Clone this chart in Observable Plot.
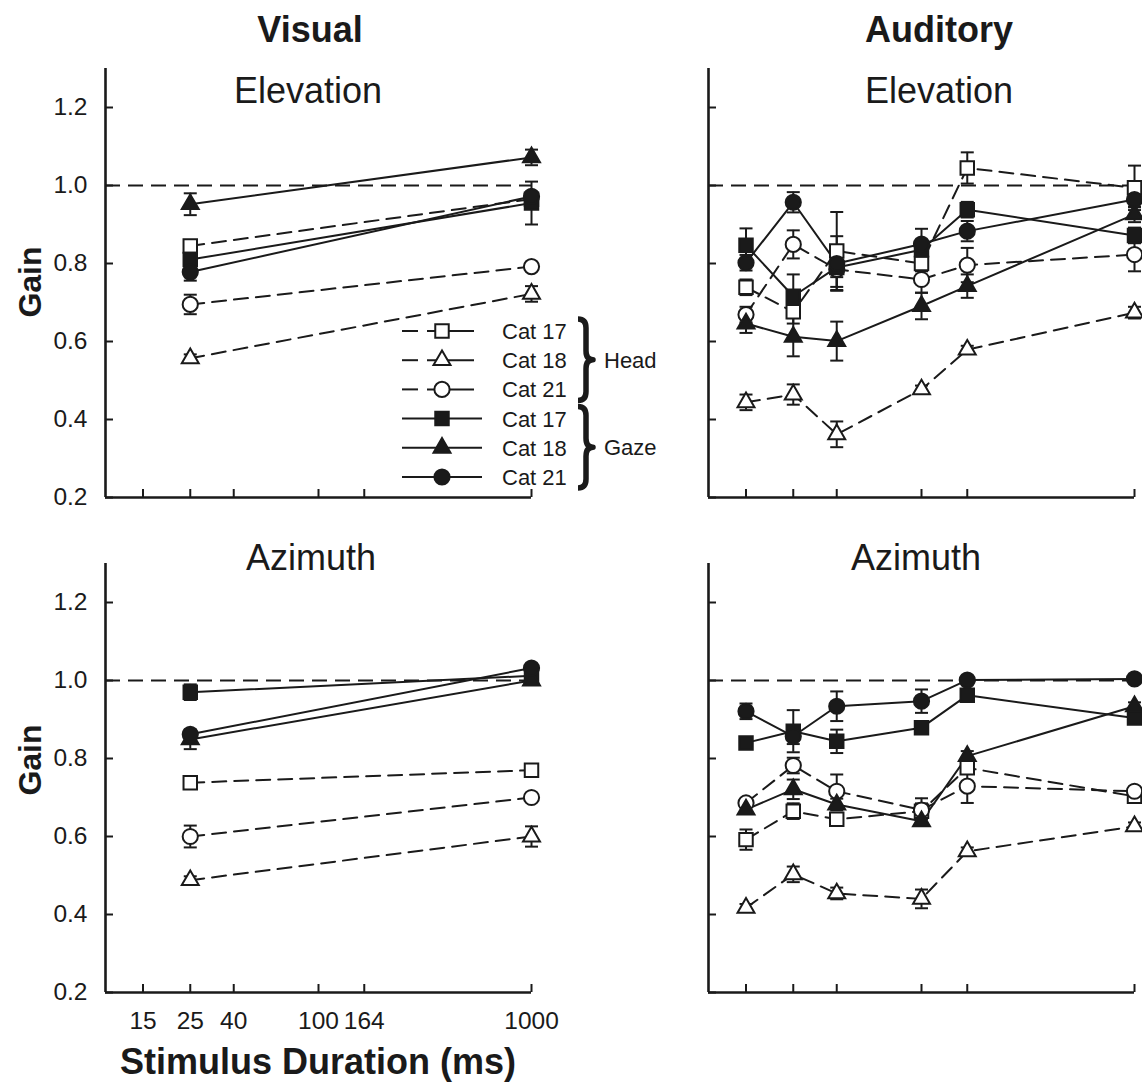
<!DOCTYPE html>
<html><head><meta charset="utf-8">
<script src="https://cdn.jsdelivr.net/npm/d3@7"></script>
<script src="https://cdn.jsdelivr.net/npm/@observablehq/plot@0.6"></script>
<style>
html,body{margin:0;padding:0;background:#fff;}
#page{position:relative;width:1142px;height:1084px;overflow:hidden;background:#fff;}
</style></head>
<body><div id="page"></div>
<script>
// ---------------- data ----------------
const cats = ["Cat 17", "Cat 18", "Cat 21"];
const visDur = [25, 1000];
const audDur = [15, 25, 40, 100, 164, 1000];
const xTicks = [15, 25, 40, 100, 164, 1000];
const yTicks = [0.2, 0.4, 0.6, 0.8, 1.0, 1.2];
const unityGain = 1.0;

// Visual – Elevation (rows: Cat 17, Cat 18, Cat 21)
const visElevHead    = [[0.845, 0.965], [0.557, 0.722], [0.695, 0.792]];
const visElevHeadErr = [[0.01, 0.01], [0.01, 0.02], [0.025, 0.01]];
const visElevGaze    = [[0.81, 0.955], [0.952, 1.072], [0.778, 0.972]];
const visElevGazeErr = [[0.01, 0.055], [0.028, 0.02], [0.022, 0.01]];

// Visual – Azimuth
const visAzHead    = [[0.738, 0.770], [0.488, 0.600], [0.600, 0.700]];
const visAzHeadErr = [[0.01, 0.01], [0.01, 0.026], [0.028, 0.01]];
const visAzGaze    = [[0.970, 1.012], [0.849, 1.000], [0.862, 1.032]];
const visAzGazeErr = [[0.02, 0.01], [0.025, 0.01], [0.01, 0.01]];

// Auditory – Elevation (15, 25, 40, 100, 164, 1000 ms)
const audElevHead    = [[0.739, 0.676, 0.832, 0.800, 1.045, 0.994],
                        [0.444, 0.464, 0.362, 0.477, 0.579, 0.674],
                        [0.669, 0.849, 0.785, 0.759, 0.796, 0.823]];
const audElevHeadErr = [[0.02, 0.03, 0.10, 0.02, 0.04, 0.057],
                        [0.02, 0.026, 0.033, 0.01, 0.01, 0.015],
                        [0.02, 0.036, 0.02, 0.034, 0.044, 0.043]];
const audElevGaze    = [[0.847, 0.716, 0.790, 0.835, 0.938, 0.872],
                        [0.646, 0.612, 0.601, 0.691, 0.742, 0.926],
                        [0.802, 0.957, 0.800, 0.850, 0.883, 0.964]];
const audElevGazeErr = [[0.043, 0.056, 0.05, 0.02, 0.02, 0.02],
                        [0.024, 0.05, 0.05, 0.034, 0.03, 0.02],
                        [0.02, 0.026, 0.07, 0.039, 0.026, 0.02]];

// Auditory – Azimuth
const audAzHead    = [[0.592, 0.665, 0.644, 0.665, 0.776, 0.703],
                      [0.417, 0.503, 0.454, 0.440, 0.562, 0.626],
                      [0.686, 0.782, 0.716, 0.668, 0.729, 0.716]];
const audAzHeadErr = [[0.026, 0.02, 0.015, 0.02, 0.01, 0.01],
                      [0.01, 0.02, 0.015, 0.024, 0.01, 0.01],
                      [0.01, 0.02, 0.043, 0.03, 0.043, 0.01]];
const audAzGaze    = [[0.840, 0.870, 0.844, 0.879, 0.962, 0.904],
                      [0.669, 0.721, 0.682, 0.639, 0.806, 0.934],
                      [0.921, 0.857, 0.934, 0.947, 1.001, 1.004]];
const audAzGazeErr = [[0.01, 0.054, 0.03, 0.01, 0.01, 0.01],
                      [0.01, 0.025, 0.015, 0.01, 0.013, 0.01],
                      [0.02, 0.02, 0.038, 0.03, 0.01, 0.01]];

// ---------------- style ----------------
const ink = "#1a1a1a";
const font = "'Liberation Sans', Arial, Helvetica, sans-serif";
const xDomain = [10, 1000];
const yDomain = [0.2, 1.3];
const symbols = {"Cat 17": "square", "Cat 18": "triangle", "Cat 21": "circle"};
const radii = {"Cat 17": 7.6, "Cat 18": 6.3, "Cat 21": 7.6};
const capSymbol = {draw(ctx, size) { const r = Math.sqrt(size / Math.PI); ctx.moveTo(-r, 0); ctx.lineTo(r, 0); }};

function rowsFor(dur, head, headErr, gaze, gazeErr) {
  const rows = [];
  [["Head", head, headErr], ["Gaze", gaze, gazeErr]].forEach(([kind, vals, errs]) => {
    vals.forEach((series, i) => series.forEach((v, j) =>
      rows.push({kind, cat: cats[i], dur: dur[j], gain: v, err: errs[i][j]})));
  });
  return rows;
}

const page = document.getElementById("page");

function panel(rows, o) {
  const head = rows.filter(d => d.kind === "Head");
  const gaze = rows.filter(d => d.kind === "Gaze");
  const marks = [
    Plot.ruleY([unityGain], {stroke: ink, strokeWidth: 2, strokeDasharray: "15,8"}),
    Plot.line(head, {x: "dur", y: "gain", z: "cat", stroke: ink, strokeWidth: 2, strokeDasharray: "14,8"}),
    Plot.line(gaze, {x: "dur", y: "gain", z: "cat", stroke: ink, strokeWidth: 2}),
    Plot.ruleX(rows, {x: "dur", y1: d => d.gain - d.err, y2: d => d.gain + d.err, stroke: ink, strokeWidth: 2}),
    Plot.dot(rows, {x: "dur", y: d => d.gain + d.err, symbol: capSymbol, r: 6.5, fill: "none", stroke: ink, strokeWidth: 2}),
    Plot.dot(rows, {x: "dur", y: d => d.gain - d.err, symbol: capSymbol, r: 6.5, fill: "none", stroke: ink, strokeWidth: 2})
  ];
  for (const kind of ["Head", "Gaze"]) for (const cat of cats) {
    marks.push(Plot.dot(rows.filter(d => d.kind === kind && d.cat === cat),
      {x: "dur", y: "gain", symbol: symbols[cat], r: radii[cat],
       fill: kind === "Head" ? "white" : ink, stroke: ink, strokeWidth: 2}));
  }
  marks.push(
    Plot.ruleX([xDomain[0]], {stroke: ink, strokeWidth: 2.6}),
    Plot.ruleY([yDomain[0]], {stroke: ink, strokeWidth: 2.6}),
    Plot.axisY(yTicks, {tickSize: -8, tickPadding: 26, strokeWidth: 2, fontSize: 24.5, label: null,
      tickFormat: o.yLabels ? d3.format(".1f") : () => ""}),
    Plot.axisX(xTicks, {tickSize: -8, tickPadding: 24, strokeWidth: 2, label: null, tickFormat: () => ""})
  );
  if (o.xLabels) {
    marks.push(Plot.text(xTicks, {x: d => d, frameAnchor: "bottom", lineAnchor: "top", dy: 19,
      fontSize: 24.5, fill: ink, text: d => String(d)}));
  }
  const svg = Plot.plot({
    width: o.width, height: o.height,
    marginLeft: o.marginLeft, marginRight: o.marginRight, marginTop: o.marginTop, marginBottom: o.marginBottom,
    x: {type: "log", domain: xDomain},
    y: {domain: yDomain},
    style: {fontFamily: font, color: ink, background: "transparent", overflow: "visible", maxWidth: "none"},
    marks
  });
  svg.style.position = "absolute";
  svg.style.left = o.left + "px";
  svg.style.top = o.top + "px";
  page.appendChild(svg);
}

panel(rowsFor(visDur, visElevHead, visElevHeadErr, visElevGaze, visElevGazeErr),
  {left: 0, top: 55, width: 571, height: 470, marginLeft: 105, marginRight: 40, marginTop: 13, marginBottom: 28, yLabels: true, xLabels: false});
panel(rowsFor(audDur, audElevHead, audElevHeadErr, audElevGaze, audElevGazeErr),
  {left: 571, top: 55, width: 600, height: 470, marginLeft: 137, marginRight: 37, marginTop: 13, marginBottom: 28, yLabels: false, xLabels: false});
panel(rowsFor(visDur, visAzHead, visAzHeadErr, visAzGaze, visAzGazeErr),
  {left: 0, top: 550, width: 571, height: 534, marginLeft: 105, marginRight: 40, marginTop: 13, marginBottom: 92, yLabels: true, xLabels: true});
panel(rowsFor(audDur, audAzHead, audAzHeadErr, audAzGaze, audAzGazeErr),
  {left: 571, top: 550, width: 600, height: 534, marginLeft: 137, marginRight: 37, marginTop: 13, marginBottom: 92, yLabels: false, xLabels: false});

// ---------------- overlay: titles, labels, legend ----------------
const ov = d3.select(page).append("svg")
  .attr("width", 1142).attr("height", 1084)
  .style("position", "absolute").style("left", "0px").style("top", "0px")
  .style("font-family", font).attr("fill", ink);

const texts = [
  {t: "Visual", x: 310, y: 42, s: 36, w: "bold"},
  {t: "Auditory", x: 939, y: 42, s: 36, w: "bold"},
  {t: "Elevation", x: 308, y: 103, s: 36, w: "normal"},
  {t: "Elevation", x: 939, y: 103, s: 36, w: "normal"},
  {t: "Azimuth", x: 311, y: 570, s: 36, w: "normal"},
  {t: "Azimuth", x: 916, y: 570, s: 36, w: "normal"},
  {t: "Stimulus Duration (ms)", x: 318, y: 1074, s: 36, w: "bold"}
];
ov.selectAll("text.title").data(texts).join("text").attr("class", "title")
  .attr("x", d => d.x).attr("y", d => d.y).attr("text-anchor", "middle")
  .attr("font-size", d => d.s).attr("font-weight", d => d.w).text(d => d.t);

[282, 760].forEach(cy => {
  ov.append("text").attr("transform", `translate(41,${cy}) rotate(-90)`)
    .attr("text-anchor", "middle").attr("font-size", 32).attr("font-weight", "bold").text("Gain");
});

// legend
const legendRows = ["Head", "Gaze"].flatMap(kind => cats.map(cat => ({kind, cat})));
const lgY0 = 331, lgStep = 29.2, lgX0 = 402, lgMark = 442, lgText = 502;
const lg = ov.append("g");
legendRows.forEach((d, i) => {
  const y = lgY0 + i * lgStep;
  if (d.kind === "Head") {
    lg.append("line").attr("x1", lgX0).attr("x2", lgX0 + 16).attr("y1", y).attr("y2", y).attr("stroke", ink).attr("stroke-width", 2);
    lg.append("line").attr("x1", lgX0 + 25).attr("x2", lgX0 + 72).attr("y1", y).attr("y2", y).attr("stroke", ink).attr("stroke-width", 2);
  } else {
    lg.append("line").attr("x1", lgX0).attr("x2", lgX0 + 80).attr("y1", y).attr("y2", y).attr("stroke", ink).attr("stroke-width", 2);
  }
  const symType = {square: d3.symbolSquare, triangle: d3.symbolTriangle, circle: d3.symbolCircle}[symbols[d.cat]];
  const r = radii[d.cat];
  lg.append("path").attr("d", d3.symbol(symType, Math.PI * r * r)())
    .attr("transform", `translate(${lgMark},${y})`)
    .attr("fill", d.kind === "Head" ? "white" : ink).attr("stroke", ink).attr("stroke-width", 2);
  lg.append("text").attr("x", lgText).attr("y", y).attr("dy", "0.36em").attr("font-size", 22).text(d.cat);
});
function brace(x, y0, y1, w, tip) {
  const ym = (y0 + y1) / 2, r = 9;
  return `M${x},${y0} Q${x + w},${y0} ${x + w},${y0 + r} L${x + w},${ym - r} Q${x + w},${ym} ${x + w + tip},${ym} ` +
         `Q${x + w},${ym} ${x + w},${ym + r} L${x + w},${y1 - r} Q${x + w},${y1} ${x},${y1}`;
}
[["Head", 0], ["Gaze", 3]].forEach(([label, k]) => {
  const y0 = lgY0 + k * lgStep - 12, y1 = lgY0 + (k + 2) * lgStep + 11;
  lg.append("path").attr("d", brace(578, y0, y1, 8, 7)).attr("fill", "none").attr("stroke", ink).attr("stroke-width", 5.5).attr("stroke-linejoin", "round");
  lg.append("text").attr("x", 604).attr("y", (y0 + y1) / 2).attr("dy", "0.36em").attr("font-size", 22).text(label);
});
</script>
</body></html>
